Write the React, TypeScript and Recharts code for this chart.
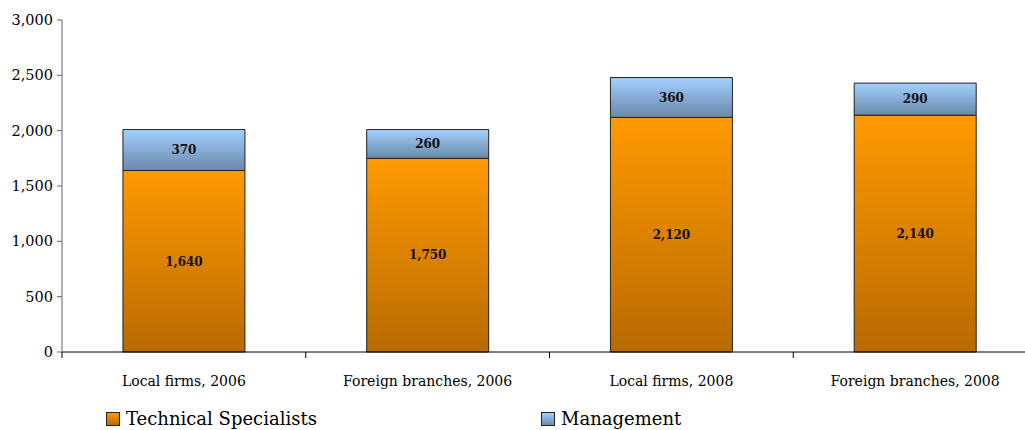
import { BarChart, Bar, XAxis, YAxis, LabelList, Legend } from 'recharts'

const categories = ['Local firms, 2006', 'Foreign branches, 2006', 'Local firms, 2008', 'Foreign branches, 2008']
const technical = [1640, 1750, 2120, 2140]
const management = [370, 260, 360, 290]
const yTicks = [0, 500, 1000, 1500, 2000, 2500, 3000]

const data = categories.map((name, i) => ({
  name,
  technical: technical[i],
  management: management[i],
}))

const WIDTH = 1040
const HEIGHT = 430
const Y_AXIS_W = 62
const RIGHT = 3
const BAND = (WIDTH - Y_AXIS_W - RIGHT) / categories.length
const FONT = '"DejaVu Serif", serif'

const fmt = (v: number) => v.toLocaleString('en-US')

function CategoryTick(props: any) {
  const { x, y, payload } = props
  return (
    <g>
      <line x1={x - BAND / 2} x2={x - BAND / 2} y1={y - 8} y2={y - 2} stroke="#000" />
      <text x={x} y={y + 26} textAnchor="middle" fontSize={14} fontFamily={FONT} fill="#000">
        {payload.value}
      </text>
    </g>
  )
}

function Swatch({ id }: { id: string }) {
  return (
    <svg width={14} height={14} style={{ verticalAlign: 'middle' }}>
      <defs>
        {id === 'orange' ? (
          <linearGradient id="lg-o" x1="0" y1="0" x2="0" y2="1">
            <stop offset="0%" stopColor="#ff9a00" />
            <stop offset="100%" stopColor="#b86a00" />
          </linearGradient>
        ) : (
          <linearGradient id="lg-b" x1="0" y1="0" x2="0" y2="1">
            <stop offset="0%" stopColor="#a3d0ff" />
            <stop offset="100%" stopColor="#6a88aa" />
          </linearGradient>
        )}
      </defs>
      <rect x={0.5} y={0.5} width={13} height={13} fill={id === 'orange' ? 'url(#lg-o)' : 'url(#lg-b)'} stroke="#222" />
    </svg>
  )
}

function LegendContent() {
  return (
    <div style={{ position: 'relative', height: 38, fontFamily: FONT, fontSize: 18, color: '#000' }}>
      <div style={{ position: 'absolute', left: 106, top: 16, display: 'flex', alignItems: 'center', gap: 6 }}>
        <Swatch id="orange" />
        <span>Technical Specialists</span>
      </div>
      <div style={{ position: 'absolute', left: 541, top: 16, display: 'flex', alignItems: 'center', gap: 6 }}>
        <Swatch id="blue" />
        <span>Management</span>
      </div>
    </div>
  )
}

export default function App() {
  return (
    <div style={{ position: 'absolute', left: 0, top: 0, width: 1025, height: 430, overflow: 'hidden', background: '#fff' }}>
      <BarChart
        width={WIDTH}
        height={HEIGHT}
        data={data}
        margin={{ top: 20, right: RIGHT, bottom: 0, left: 0 }}
        barCategoryGap="25%"
      >
        <defs>
          <linearGradient id="gradOrange" x1="0" y1="0" x2="0" y2="1">
            <stop offset="0%" stopColor="#ff9a00" />
            <stop offset="100%" stopColor="#b86a00" />
          </linearGradient>
          <linearGradient id="gradBlue" x1="0" y1="0" x2="0" y2="1">
            <stop offset="0%" stopColor="#a3d0ff" />
            <stop offset="100%" stopColor="#6a88aa" />
          </linearGradient>
        </defs>
        <XAxis
          dataKey="name"
          height={40}
          stroke="#000"
          tickLine={false}
          tick={<CategoryTick />}
          interval={0}
        />
        <YAxis
          width={Y_AXIS_W}
          domain={[0, 3000]}
          ticks={yTicks}
          tickFormatter={fmt}
          stroke="#666"
          tickSize={5}
          tickMargin={4}
          tick={{ fontSize: 14.5, fontFamily: FONT, fill: '#000' }}
          interval={0}
        />
        <Legend verticalAlign="bottom" height={38} content={<LegendContent />} />
        <Bar dataKey="technical" stackId="a" fill="url(#gradOrange)" stroke="#222" strokeWidth={1} isAnimationActive={false}>
          <LabelList dataKey="technical" position="center" formatter={(v: any) => fmt(Number(v))} style={{ fontSize: 12, fontWeight: 'bold', fontFamily: FONT, fill: '#111' }} />
        </Bar>
        <Bar dataKey="management" stackId="a" fill="url(#gradBlue)" stroke="#222" strokeWidth={1} isAnimationActive={false}>
          <LabelList dataKey="management" position="center" formatter={(v: any) => fmt(Number(v))} style={{ fontSize: 12, fontWeight: 'bold', fontFamily: FONT, fill: '#111' }} />
        </Bar>
      </BarChart>
    </div>
  )
}
